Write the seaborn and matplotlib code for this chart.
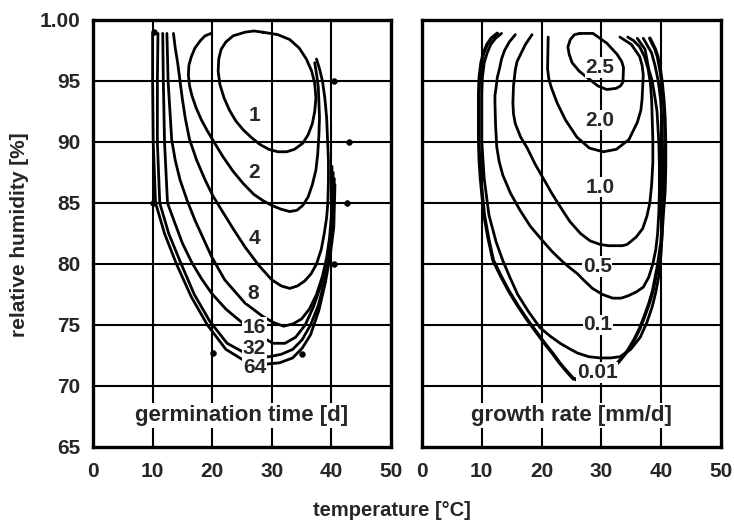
import matplotlib
matplotlib.use("Agg")
import matplotlib.pyplot as plt
import seaborn as sns

# ---- axis ticks -------------------------------------------------------
temp_ticks = [0, 10, 20, 30, 40, 50]
temp_tick_labels = ["0", "10", "20", "30", "40", "50"]
hum_ticks = [65, 70, 75, 80, 85, 90, 95, 100]
hum_tick_labels = ["65", "70", "75", "80", "85", "90", "95", "1.00"]
grid_temp = [10, 20, 30, 40]
grid_hum = [70, 75, 80, 85, 90, 95]

# ---- germination time isopleths [d] (temperature, humidity) ----------
germ_1_t = [28.5, 31.0, 33.0, 34.6, 35.8, 36.7, 37.2, 37.4, 37.2, 36.8, 36.1, 35.2, 33.8, 32.5, 31.0, 29.5, 28.0, 26.5, 25.2, 24.0, 22.9, 22.0, 21.3, 21.0, 21.1, 21.5, 22.3, 23.5, 25.5, 27.0, 28.5]
germ_1_h = [99.0, 98.8, 98.4, 97.7, 96.8, 95.8, 94.8, 93.6, 92.5, 91.5, 90.6, 89.9, 89.4, 89.2, 89.2, 89.4, 89.8, 90.4, 91.0, 91.7, 92.6, 93.6, 94.7, 95.8, 96.8, 97.6, 98.2, 98.7, 99.0, 99.1, 99.0]

germ_2_t = [19.8, 18.8, 18.0, 17.1, 16.5, 16.1, 16.0, 16.2, 16.6, 17.3, 18.2, 19.2, 20.3, 21.8, 23.5, 25.2, 27.0, 28.5, 30.0, 31.5, 33.0, 34.2, 35.2, 36.1, 36.8, 37.4, 37.7, 37.9, 38.0, 37.9, 37.8, 37.5, 37.2]
germ_2_h = [98.9, 98.7, 98.3, 97.7, 97.0, 96.3, 95.5, 94.6, 93.8, 92.8, 91.8, 90.9, 90.0, 88.8, 87.6, 86.6, 85.7, 85.2, 84.8, 84.5, 84.3, 84.4, 84.8, 85.5, 86.5, 87.7, 89.0, 90.5, 92.0, 93.3, 94.5, 95.6, 96.5]

germ_4_t = [13.5, 13.8, 14.2, 14.6, 15.0, 15.5, 16.2, 17.4, 18.8, 20.1, 21.6, 23.5, 25.5, 27.8, 30.0, 31.6, 33.0, 34.3, 35.5, 36.6, 37.5, 38.3, 38.8, 39.2, 39.4, 39.5, 39.5, 39.2, 38.9, 38.5, 38.0, 37.5]
germ_4_h = [98.9, 97.7, 96.5, 95.0, 93.5, 91.9, 90.2, 88.5, 86.9, 85.6, 84.4, 82.9, 81.4, 79.9, 78.7, 78.2, 78.0, 78.2, 78.6, 79.2, 80.0, 81.2, 82.5, 83.8, 85.0, 86.8, 88.5, 92.0, 93.6, 95.0, 96.0, 96.8]

germ_8_t = [12.4, 12.5, 12.6, 12.9, 13.2, 13.8, 14.6, 15.8, 17.1, 18.5, 19.9, 22.1, 25.5, 28.5, 30.3, 32.0, 33.6, 35.0, 36.3, 37.5, 38.5, 39.2, 39.7, 40.0, 40.1]
germ_8_h = [98.9, 97.0, 95.0, 92.6, 90.2, 88.5, 86.9, 85.2, 83.6, 82.1, 80.6, 78.7, 76.8, 75.7, 75.2, 74.9, 75.1, 75.5, 76.3, 77.5, 79.0, 80.5, 82.2, 84.0, 88.0]

germ_16_t = [11.7, 11.8, 12.0, 12.5, 13.7, 15.0, 16.6, 18.2, 19.9, 22.3, 25.0, 27.7, 30.2, 32.2, 34.0, 35.6, 37.0, 38.2, 39.2, 39.8, 40.2, 40.3]
germ_16_h = [98.9, 95.0, 90.0, 85.0, 83.4, 81.7, 80.1, 78.8, 77.6, 76.3, 75.2, 74.2, 73.5, 73.5, 74.0, 75.0, 76.5, 78.2, 80.0, 82.0, 84.0, 87.5]

germ_32_t = [10.9, 10.8, 10.8, 11.2, 12.7, 14.8, 17.0, 19.6, 22.5, 25.5, 27.6, 29.6, 31.6, 33.5, 35.1, 36.5, 37.8, 38.8, 39.6, 40.2, 40.5]
germ_32_h = [98.9, 95.0, 90.0, 85.0, 82.5, 80.0, 77.5, 75.3, 73.5, 72.7, 72.4, 72.4, 72.6, 73.0, 73.8, 75.0, 76.6, 78.5, 80.7, 83.0, 87.0]

germ_64_t = [10.0, 10.0, 10.1, 10.5, 12.0, 14.0, 16.5, 19.2, 22.3, 25.3, 27.2, 29.1, 31.3, 33.5, 35.1, 36.5, 37.9, 39.0, 39.8, 40.4, 40.6]
germ_64_h = [98.9, 95.0, 90.0, 85.0, 82.5, 80.0, 77.3, 75.0, 73.0, 72.1, 71.8, 71.8, 71.9, 72.3, 73.1, 74.2, 76.2, 78.5, 80.7, 83.0, 86.5]

germ_labels = ["1", "2", "4", "8", "16", "32", "64"]
germ_label_t = [27.1, 27.1, 27.1, 26.8, 27.1, 27.1, 27.1]
germ_label_h = [92.2, 87.5, 82.1, 77.6, 74.8, 73.1, 71.5]

# measured points
obs_t = [10.2, 10.0, 20.1, 35.0, 40.5, 42.7, 43.0, 40.5]
obs_h = [99.0, 85.0, 72.7, 72.6, 80.0, 85.0, 90.0, 95.0]

# ---- growth rate isopleths [mm/d] -------------------------------------
grow_25_t = [26.4, 28.6, 30.9, 32.6, 33.4, 33.7, 33.6, 33.2, 32.5, 30.9, 29.4, 28.1, 26.3, 25.1, 24.6, 24.4, 24.8, 25.5, 26.4]
grow_25_h = [98.9, 98.9, 98.1, 97.2, 96.6, 96.1, 94.9, 94.6, 94.4, 94.3, 94.6, 95.1, 95.8, 96.5, 97.2, 97.8, 98.4, 98.8, 98.9]

grow_20_t = [21.1, 21.0, 21.2, 21.6, 22.6, 24.0, 25.9, 28.0, 30.3, 32.5, 34.6, 36.0, 36.6, 36.8, 37.0, 36.8, 36.4, 35.0, 33.1]
grow_20_h = [98.6, 96.0, 95.2, 94.5, 93.2, 91.8, 90.4, 89.5, 89.2, 89.4, 90.2, 91.6, 92.6, 93.5, 95.5, 96.3, 97.0, 98.0, 98.6]

grow_10_t = [18.4, 17.3, 16.5, 15.9, 15.6, 15.3, 15.2, 15.3, 15.6, 16.5, 17.6, 18.9, 20.3, 21.7, 23.1, 24.7, 26.5, 28.1, 29.8, 31.2, 32.5, 33.5, 34.3, 35.8, 36.9, 37.6, 38.1, 38.4, 38.6, 38.6, 38.4, 38.2, 37.8, 37.2, 36.4, 35.4, 34.4]
grow_10_h = [98.8, 98.0, 97.2, 96.6, 95.9, 94.6, 93.2, 92.3, 91.5, 90.4, 89.5, 88.2, 87.0, 85.8, 84.7, 83.5, 82.5, 81.9, 81.6, 81.5, 81.5, 81.5, 81.6, 82.2, 82.9, 83.9, 85.0, 86.5, 88.3, 90.2, 93.5, 94.8, 96.0, 97.0, 97.8, 98.3, 98.6]

grow_05_t = [15.6, 14.6, 13.8, 13.3, 13.0, 12.6, 12.4, 12.2, 12.2, 12.3, 12.5, 12.9, 13.5, 14.8, 16.4, 18.1, 20.0, 21.8, 23.5, 24.7, 26.0, 27.2, 28.5, 30.2, 31.9, 33.3, 34.5, 35.8, 37.0, 37.9, 38.6, 39.1, 39.4, 39.6, 39.7, 39.7, 39.6, 39.3, 39.0, 38.5, 37.9, 37.3, 36.0]
grow_05_h = [98.8, 98.2, 97.5, 96.8, 96.1, 95.3, 94.5, 93.8, 93.2, 91.4, 89.6, 88.4, 87.3, 85.8, 84.4, 83.1, 82.0, 81.0, 80.2, 79.7, 79.2, 78.6, 78.0, 77.5, 77.2, 77.2, 77.4, 77.7, 78.1, 78.9, 80.0, 81.2, 82.5, 84.2, 86.0, 88.0, 90.0, 92.5, 93.5, 95.0, 96.0, 97.6, 98.5]

grow_01_t = [13.3, 12.3, 11.5, 10.9, 10.4, 10.1, 10.0, 10.0, 10.0, 10.2, 10.4, 10.8, 11.2, 11.8, 12.4, 13.5, 14.7, 16.0, 17.8, 19.7, 21.4, 23.1, 24.5, 26.0, 27.9, 29.8, 31.5, 33.1, 34.9, 36.5, 37.6, 38.5, 39.1, 39.6, 40.0, 40.2, 40.3, 40.3, 40.1, 39.9, 39.5, 39.0, 38.4, 37.0]
grow_01_h = [98.9, 98.5, 98.0, 97.3, 96.5, 95.3, 94.0, 92.0, 90.0, 88.5, 87.0, 85.5, 84.0, 82.9, 81.8, 80.3, 78.9, 77.5, 76.1, 74.8, 74.1, 73.5, 73.1, 72.7, 72.4, 72.3, 72.3, 72.4, 73.0, 74.0, 75.2, 76.5, 77.7, 79.0, 81.0, 83.0, 85.5, 88.0, 92.0, 93.5, 95.0, 96.2, 97.3, 98.5]

grow_001_t = [12.6, 11.6, 10.9, 10.3, 9.9, 9.6, 9.5, 9.5, 9.5, 9.6, 9.8, 10.1, 10.4, 11.1, 11.9, 13.2, 14.5, 16.0, 17.5, 19.0, 20.5, 21.8, 23.0, 24.2, 25.3, 27.3, 29.3, 31.2, 33.1, 34.4, 35.5, 36.4, 37.2, 38.0, 38.6, 39.0, 39.4, 40.0, 40.3, 40.6, 40.7, 40.7, 40.6, 40.4, 40.1, 39.8, 39.4, 39.0, 38.1]
grow_001_h = [98.9, 98.5, 98.0, 97.3, 96.5, 95.3, 94.0, 92.0, 90.0, 88.5, 87.0, 85.5, 84.0, 82.1, 80.3, 79.0, 77.8, 76.6, 75.5, 74.5, 73.5, 72.7, 71.9, 71.2, 70.6, 70.4, 70.5, 71.1, 72.1, 72.9, 73.8, 74.7, 75.7, 76.8, 77.8, 78.8, 79.8, 81.8, 84.0, 86.0, 88.0, 90.0, 92.0, 93.5, 95.0, 96.0, 97.0, 97.6, 98.5]

grow_labels = ["2.5", "2.0", "1.0", "0.5", "0.1", "0.01"]
grow_label_t = [29.8, 29.8, 29.8, 29.3, 29.4, 29.3]
grow_label_h = [96.1, 91.8, 86.3, 79.8, 75.0, 71.1]

# ---- styling -----------------------------------------------------------
sns.set_theme(style="white")
plt.rcParams["font.family"] = ["Liberation Sans", "DejaVu Sans"]
plt.rcParams["font.weight"] = "bold"

W, H = 734, 522
fig = plt.figure(figsize=(W / 100, H / 100), dpi=100)
fig.patch.set_facecolor("white")
ax_left = fig.add_axes([93 / W, 1 - 447 / H, 298 / W, 427 / H])
ax_right = fig.add_axes([422 / W, 1 - 447 / H, 299 / W, 427 / H])


def style_panel(ax, show_y):
    ax.set_facecolor("white")
    ax.set_xlim(0, 50)
    ax.set_ylim(65, 100)
    for v in grid_temp:
        ax.axvline(v, color="black", lw=1.5, zorder=1)
    for v in grid_hum:
        ax.axhline(v, color="black", lw=1.5, zorder=1)
    ax.set_xticks(temp_ticks)
    ax.set_xticklabels(temp_tick_labels, fontsize=15, fontweight="bold")
    ax.set_yticks(hum_ticks)
    if show_y:
        ax.set_yticklabels(hum_tick_labels, fontsize=15, fontweight="bold")
    else:
        ax.set_yticklabels([])
    ax.tick_params(axis="x", length=0, pad=11)
    ax.tick_params(axis="y", length=0, pad=9)
    for sp in ax.spines.values():
        sp.set_visible(True)
        sp.set_color("black")
        sp.set_linewidth(2.4)
        sp.set_zorder(6)
    ax.set_xlabel("")
    ax.set_ylabel("")


def draw_curve(ax, t, h, lw=2.0):
    sns.lineplot(x=t, y=h, sort=False, estimator=None, color="black",
                 lw=lw, ax=ax, zorder=3, solid_joinstyle="round",
                 solid_capstyle="round")


def draw_labels(ax, labels, lt, lh):
    for s, x, y in zip(labels, lt, lh):
        ax.text(x, y, s, ha="center", va="center", fontsize=15,
                fontweight="bold", zorder=5,
                bbox=dict(facecolor="white", edgecolor="none", pad=0.5))


# left panel: germination time
for t, h in [(germ_1_t, germ_1_h), (germ_2_t, germ_2_h), (germ_4_t, germ_4_h),
             (germ_8_t, germ_8_h), (germ_16_t, germ_16_h),
             (germ_32_t, germ_32_h), (germ_64_t, germ_64_h)]:
    draw_curve(ax_left, t, h)
sns.scatterplot(x=obs_t, y=obs_h, color="black", s=18, ax=ax_left, zorder=4,
                edgecolor="black", legend=False)
draw_labels(ax_left, germ_labels, germ_label_t, germ_label_h)
ax_left.text(25, 67.6, "germination time [d]", ha="center", va="center",
             fontsize=16, fontweight="bold", zorder=5,
             bbox=dict(facecolor="white", edgecolor="none", pad=1.5))
style_panel(ax_left, True)

# right panel: growth rate
for t, h in [(grow_25_t, grow_25_h), (grow_20_t, grow_20_h),
             (grow_10_t, grow_10_h), (grow_05_t, grow_05_h),
             (grow_01_t, grow_01_h)]:
    draw_curve(ax_right, t, h)
draw_curve(ax_right, grow_001_t, grow_001_h, lw=2.6)
draw_labels(ax_right, grow_labels, grow_label_t, grow_label_h)
ax_right.text(25, 67.6, "growth rate [mm/d]", ha="center", va="center",
              fontsize=16, fontweight="bold", zorder=5,
              bbox=dict(facecolor="white", edgecolor="none", pad=1.5))
style_panel(ax_right, False)

fig.text(20 / W, 1 - 235 / H, "relative humidity [%]", rotation=90,
         ha="center", va="center", fontsize=15, fontweight="bold")
fig.text(392 / W, 1 - 510 / H, "temperature [°C]", ha="center", va="center",
         fontsize=14.5, fontweight="bold")

fig.savefig("out.png", dpi=100, facecolor="white")
